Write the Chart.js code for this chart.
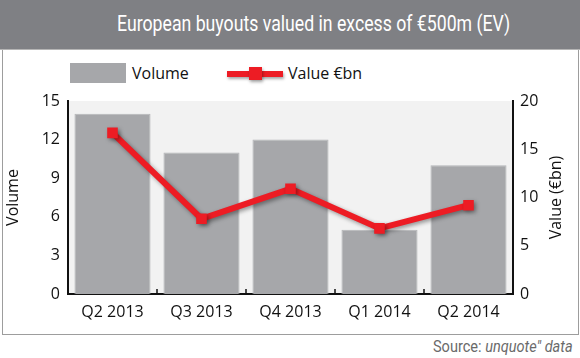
<!DOCTYPE html>
<html>
<head>
<meta charset="utf-8">
<script src="https://cdn.jsdelivr.net/npm/chart.js@4.4.1/dist/chart.umd.min.js"></script>
<style>
  body { margin: 0; background: #fff; }
  #wrap { position: relative; width: 580px; height: 358px; overflow: hidden; }
  #frame { position: absolute; left: 2px; top: 0; width: 575px; height: 333px; border: 1px solid #9d9d9d; box-sizing: content-box; }
  #header { position: absolute; left: 0; top: 0; width: 580px; height: 49px; background: #7f8084; border-bottom: 1px solid #b5b5b5; }
  .cond { position: absolute; white-space: nowrap; transform-origin: right center; font-family: "Roboto", sans-serif; }
  #title { right: 70px; top: 11px; color: #fff; font-size: 22px; font-weight: 400; }
  #source { right: 7px; top: 337px; color: #6a6a6a; font-size: 16px; }
  .leg { position: absolute; font: 16px "Open Sans", "Noto Sans", sans-serif; color: #111; }
  canvas { position: absolute; left: 0; top: 0; }
</style>
</head>
<body>
<div id="wrap">
  <div id="frame"></div>
  <div id="header"><div id="title" class="cond">European buyouts valued in excess of €500m (EV)</div></div>
  <div style="position:absolute;left:70px;top:63px;width:56px;height:20px;background:#a6a7aa;"></div>
  <div class="leg" style="left:132px;top:62px;">Volume</div>
  <div style="position:absolute;left:227px;top:71px;width:56px;height:6px;background:#ed1c24;box-shadow:1px 2px 3px rgba(0,0,0,0.35);"></div>
  <div style="position:absolute;left:249px;top:67px;width:13px;height:13px;background:#ed1c24;box-shadow:1px 2px 3px rgba(0,0,0,0.35);"></div>
  <div class="leg" style="left:288px;top:62px;">Value €bn</div>
  <div id="source" class="cond">Source: <i>unquote" data</i></div>
  <canvas id="chart" width="580" height="358"></canvas>
</div>
<script>
var quarters = ["Q2 2013", "Q3 2013", "Q4 2013", "Q1 2014", "Q2 2014"];
var volume = [14, 11, 12, 5, 10];
var valueBn = [16.7, 7.8, 10.9, 6.8, 9.2];
var leftTicks = [0, 3, 6, 9, 12, 15];
var rightTicks = [0, 5, 10, 15, 20];

// squeeze the header and source texts to a condensed look
function squeeze(id, w) {
  var el = document.getElementById(id);
  el.style.transform = "scaleX(" + (w / el.offsetWidth) + ")";
}
squeeze("title", 393);
squeeze("source", 140);

var fontFamily = "'Open Sans', 'Noto Sans', sans-serif";
var tickFont = { family: fontFamily, size: 16 };

// plot background, category tick marks, axis titles and the line shadow
var extras = {
  id: "extras",
  beforeDraw: function (chart) {
    var a = chart.chartArea, ctx = chart.ctx;
    ctx.save();
    ctx.fillStyle = "#f2f2f2";
    ctx.fillRect(a.left, a.top, a.right - a.left, a.bottom - a.top);
    ctx.restore();
  },
  afterDatasetsDraw: function (chart) {
    var x = chart.scales.x, ctx = chart.ctx, a = chart.chartArea;
    ctx.save();
    ctx.strokeStyle = "#111";
    ctx.lineWidth = 1.5;
    for (var i = 1; i < quarters.length; i++) {
      var px = (x.getPixelForValue(i - 1) + x.getPixelForValue(i)) / 2;
      ctx.beginPath();
      ctx.moveTo(px, a.bottom);
      ctx.lineTo(px, a.bottom - 5);
      ctx.stroke();
    }
    // axis titles, both reading bottom to top
    var midY = (a.top + a.bottom) / 2;
    ctx.fillStyle = "#111";
    ctx.font = "16px " + fontFamily;
    ctx.textAlign = "center";
    ctx.textBaseline = "middle";
    [["Volume", 13], ["Value (€bn)", 556]].forEach(function (t) {
      ctx.save();
      ctx.translate(t[1], midY);
      ctx.rotate(-Math.PI / 2);
      ctx.fillText(t[0], 0, 0);
      ctx.restore();
    });
    ctx.restore();
  },
  beforeDatasetDraw: function (chart, args) {
    if (args.index === 1) {
      var ctx = chart.ctx;
      ctx.save();
      ctx.shadowColor = "rgba(0,0,0,0.4)";
      ctx.shadowBlur = 4;
      ctx.shadowOffsetX = 2;
      ctx.shadowOffsetY = 2;
    }
  },
  afterDatasetDraw: function (chart, args) {
    if (args.index === 1) chart.ctx.restore();
  }
};

new Chart(document.getElementById("chart").getContext("2d"), {
  type: "bar",
  data: {
    labels: quarters,
    datasets: [{
      label: "Volume",
      data: volume,
      backgroundColor: "#a6a7aa",
      borderColor: "#b4b5b8",
      borderWidth: 1,
      barPercentage: 0.855,
      categoryPercentage: 1,
      yAxisID: "y",
      order: 2
    }, {
      type: "line",
      label: "Value €bn",
      data: valueBn,
      borderColor: "#ed1c24",
      backgroundColor: "#ed1c24",
      borderWidth: 6,
      pointStyle: "rect",
      pointRadius: 7.5,
      pointHoverRadius: 7.5,
      pointBorderWidth: 0,
      yAxisID: "y1",
      order: 1
    }]
  },
  options: {
    responsive: false,
    animation: false,
    layout: { padding: { top: 101, left: 0, right: 0, bottom: 0 } },
    plugins: { legend: { display: false }, tooltip: { enabled: false } },
    scales: {
      x: {
        grid: { display: false, drawTicks: false },
        border: { color: "#111", width: 2 },
        ticks: { color: "#111", font: tickFont, padding: 9 },
        afterFit: function (s) { s.height = 64; }
      },
      y: {
        position: "left",
        min: 0, max: 15,
        afterBuildTicks: function (s) { s.ticks = leftTicks.map(function (v) { return { value: v }; }); },
        grid: { display: false, drawTicks: false },
        border: { color: "#111", width: 2 },
        ticks: { color: "#111", font: tickFont, padding: 8 },
        afterFit: function (s) { s.width = 68; }
      },
      y1: {
        position: "right",
        min: 0, max: 20,
        afterBuildTicks: function (s) { s.ticks = rightTicks.map(function (v) { return { value: v }; }); },
        grid: { display: false, drawTicks: false },
        border: { color: "#111", width: 2 },
        ticks: { color: "#111", font: tickFont, padding: 7 },
        afterFit: function (s) { s.width = 67; }
      }
    }
  },
  plugins: [extras]
});
</script>
</body>
</html>
